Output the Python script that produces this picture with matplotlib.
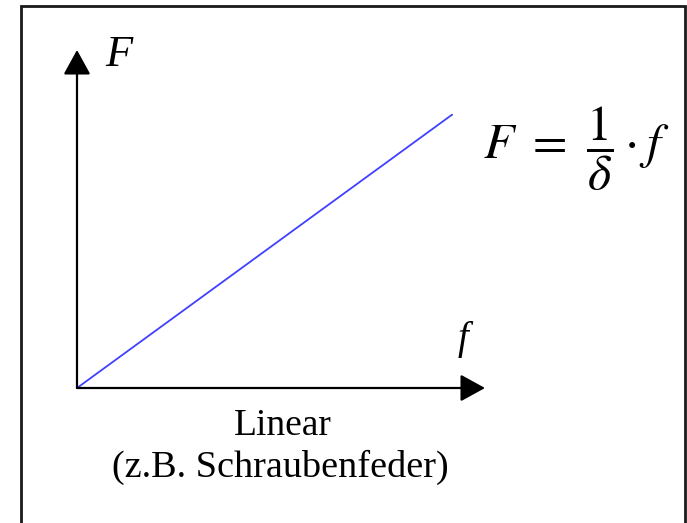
import matplotlib
matplotlib.use("Agg")
import matplotlib.pyplot as plt
from matplotlib.patches import Rectangle

# Data: linear spring characteristic F = f / delta
f_vals = [0.0, 1.0]
F_vals = [0.0, 1.0]
x_label = "f"
y_label = "F"
caption1 = "Linear"
caption2 = "(z.B. Schraubenfeder)"
formula = r"$F\ =\ \dfrac{1}{\delta}\cdot f$"

W, H = 687, 523
fig = plt.figure(figsize=(W / 100, H / 100), dpi=100)
fig.patch.set_facecolor("white")

def fx(px):
    return px / W

def fy(py):
    return 1 - py / H

# Border frame
fig.patches.append(Rectangle((fx(21), fy(540)), fx(685) - fx(21), fy(6) - fy(540),
                             transform=fig.transFigure, fill=False,
                             edgecolor="#1a1a1a", linewidth=2.0))

# Inner axes: origin at (77,388), line end at (453,114)
ox, oy = 77, 388
ex, ey = 453, 114
ax = fig.add_axes([fx(ox), fy(oy), fx(ex) - fx(ox), fy(ey) - fy(oy)])
ax.set_xlim(0, 1)
ax.set_ylim(0, 1)
ax.axis("off")

ax.plot(f_vals, F_vals, color="#4040ff", lw=1.3, solid_capstyle="butt")

# Axes arrows
x_end = (485 - ox) / (ex - ox)
y_end = (oy - 50) / (oy - ey)
aprops = dict(arrowstyle="-|>,head_length=0.4,head_width=0.22", mutation_scale=38,
              lw=1.6, color="black", shrinkA=0, shrinkB=0)
ax.annotate("", xy=(x_end, 0), xytext=(0, 0), arrowprops=aprops, annotation_clip=False)
ax.annotate("", xy=(0, y_end), xytext=(0, 0), arrowprops=aprops, annotation_clip=False)

# Labels
serif = ["Liberation Serif", "DejaVu Serif"]
fig.text(fx(119), fy(55), y_label, family=serif, style="italic", fontsize=32,
         ha="center", va="center")
fig.text(fx(463), fy(339), x_label, family=serif, style="italic", fontsize=28,
         ha="center", va="center")
fig.text(fx(283), fy(435), caption1, family=serif, fontsize=27,
         ha="center", va="baseline")
fig.text(fx(280), fy(477), caption2, family=serif, fontsize=27.5,
         ha="center", va="baseline")

plt.rcParams["mathtext.fontset"] = "stix"
fig.text(fx(483), fy(149), formula, fontsize=36, ha="left", va="center")

fig.savefig("out.png", dpi=100)
